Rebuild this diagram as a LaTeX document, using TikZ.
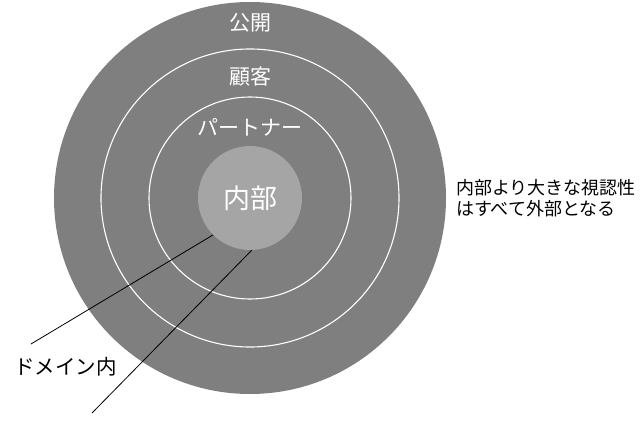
\documentclass[tikz,border=0pt]{standalone}
\usepackage{fontspec}
\newfontfamily\jpfont{Noto Sans CJK JP}
\definecolor{outergray}{HTML}{7F7F7F}
\definecolor{innergray}{HTML}{A5A5A5}
\begin{document}
\begin{tikzpicture}[x=1pt,y=-1pt,
    ring/.style={circle,draw=white,line width=1.1pt,inner sep=0pt},
    ringtext/.style={text=white,inner sep=0pt,font=\jpfont\fontsize{21}{21}\selectfont},
    sidetext/.style={inner sep=0pt,anchor=west,align=left,font=\jpfont\fontsize{18}{21}\selectfont}]
    \useasboundingbox (0,0) rectangle (643,433);
    \fill[white] (0,0) rectangle (643,433);
    \node[circle,fill=outergray,inner sep=0pt,minimum size=392pt] (public) at (250,198) {};
    \node[ring,minimum size=298pt] (customer) at (250,198) {};
    \node[ring,minimum size=202pt] (partner) at (250,198) {};
    \node[circle,fill=innergray,inner sep=0pt,minimum size=104pt,text=white,
          font=\jpfont\fontsize{27}{27}\selectfont] (inner) at (250,198) {内部};
    \node[ringtext] (publictext) at (250,23) {公開};
    \node[ringtext] (customertext) at (250,77) {顧客};
    \node[ringtext] (partnertext) at (250,127) {パートナー};
    \node[sidetext] (note) at (456,198) {内部より大きな視認性\\はすべて外部となる};
    \node[sidetext,font=\jpfont\fontsize{20.5}{21}\selectfont] (domain) at (14,367) {ドメイン内};
    \coordinate (domainup) at (31,344);
    \coordinate (domaindown) at (92,413);
    \draw[line width=0.8pt] (inner.225) -- (domainup);
    \draw[line width=0.8pt] (inner.-88) -- (domaindown);
\end{tikzpicture}
\end{document}
